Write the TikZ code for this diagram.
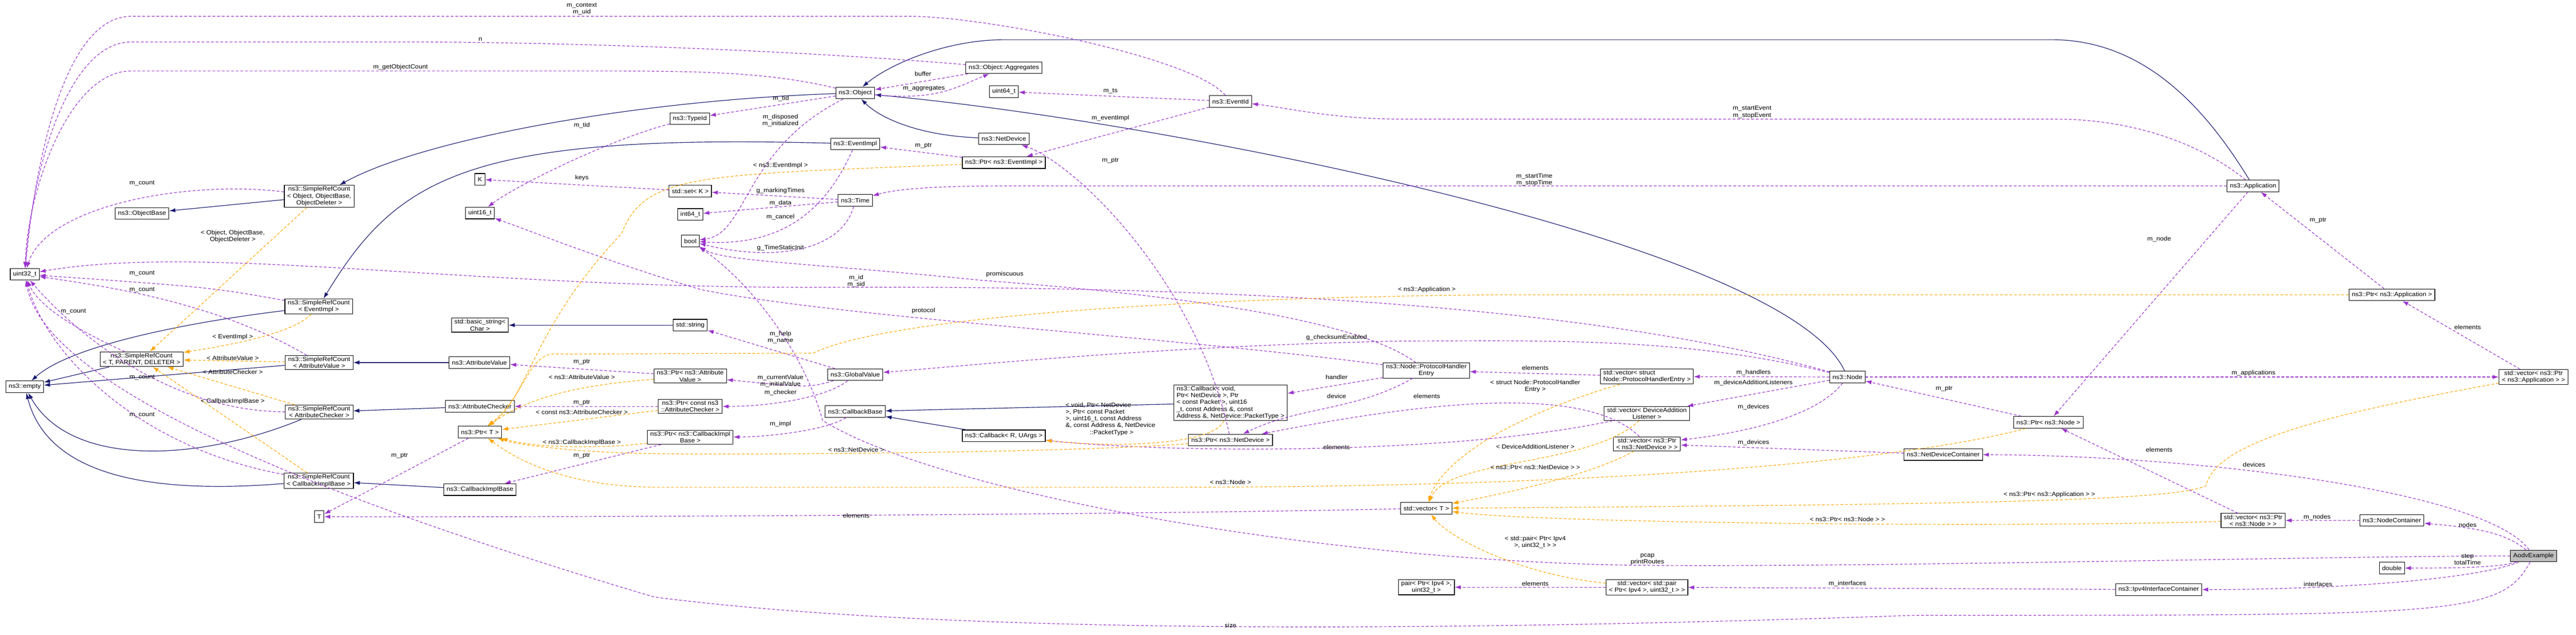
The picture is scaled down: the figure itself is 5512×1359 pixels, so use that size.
\documentclass[tikz,border=0pt]{standalone}
\usepackage{fontspec}
\setmainfont{Liberation Sans}[FakeStretch=1.08]
\usetikzlibrary{arrows.meta}
\definecolor{inhc}{HTML}{191970}
\definecolor{usec}{HTML}{9A32CD}
\definecolor{tplc}{HTML}{FFA500}
\tikzset{
  box/.style={draw=black,line width=1.2pt,fill=white,inner xsep=6pt,inner ysep=3pt,minimum height=25pt,align=center,font=\fontsize{13}{14.5}\selectfont},
  lbl/.style={inner sep=1pt,align=center,font=\fontsize{13}{14.5}\selectfont},
  inh/.style={draw=inhc,line width=1.3pt,-{Latex[length=13pt,width=9pt]}},
  use/.style={draw=usec,line width=1.3pt,dash pattern=on 6pt off 4pt,-{Latex[length=13pt,width=9pt]}},
  tpl/.style={draw=tplc,line width=1.3pt,dash pattern=on 6pt off 4pt,-{Latex[length=13pt,width=9pt]}}
}
\begin{document}
\begin{tikzpicture}[x=1pt,y=-1pt]
\useasboundingbox[fill=white] (0,0) rectangle (5512,1359);
% nodes
\node[box] (u32) at (53,587) {uint32\_t};
\node[box] (srcO) at (683,420) {ns3::SimpleRefCount\\< Object, ObjectBase,\\ObjectDeleter >};
\node[box] (objbase) at (304,457) {ns3::ObjectBase};
\node[box] (K) at (1027,384) {K};
\node[box] (u16) at (1027,456) {uint16\_t};
\node[box] (srcE) at (682,656) {ns3::SimpleRefCount\\< EventImpl >};
\node[box] (bstr) at (1027,696) {std::basic\_string<\\Char >};
\node[box] (srcT) at (303,769) {ns3::SimpleRefCount\\< T, PARENT, DELETER >};
\node[box] (empty) at (53,828) {ns3::empty};
\node[box] (srcAV) at (683,776) {ns3::SimpleRefCount\\< AttributeValue >};
\node[box] (av) at (1026,776) {ns3::AttributeValue};
\node[box] (srcAC) at (683,882) {ns3::SimpleRefCount\\< AttributeChecker >};
\node[box] (ac) at (1027,870) {ns3::AttributeChecker};
\node[box] (ptrT) at (1027,925) {ns3::Ptr< T >};
\node[box] (srcCB) at (682,1029) {ns3::SimpleRefCount\\< CallbackImplBase >};
\node[box] (cib) at (1027,1048) {ns3::CallbackImplBase};
\node[box] (T) at (683,1106) {T};
\node[box] (obj) at (1830,199) {ns3::Object};
\node[box] (agg) at (2148,145) {ns3::Object::Aggregates};
\node[box] (u64) at (2148,196) {uint64\_t};
\node[box] (evid) at (2633,217) {ns3::EventId};
\node[box] (typeid) at (1476,254) {ns3::TypeId};
\node[box] (evimpl) at (1830,308) {ns3::EventImpl};
\node[box] (nd) at (2148,297) {ns3::NetDevice};
\node[box] (ptrEv) at (2148,348) {ns3::Ptr< ns3::EventImpl >};
\node[box] (setK) at (1477,409) {std::set< K >};
\node[box] (time) at (1830,429) {ns3::Time};
\node[box] (i64) at (1477,459) {int64\_t};
\node[box] (bool) at (1477,516) {bool};
\node[box] (str) at (1477,696) {std::string};
\node[box] (ptrAV) at (1477,805) {ns3::Ptr< ns3::Attribute\\Value >};
\node[box] (gv) at (1830,802) {ns3::GlobalValue};
\node[box] (ptrAC) at (1477,870) {ns3::Ptr< const ns3\\::AttributeChecker >};
\node[box] (cbbase) at (1830,881) {ns3::CallbackBase};
\node[box] (ptrCB) at (1477,936) {ns3::Ptr< ns3::CallbackImpl\\Base >};
\node[box] (cbR) at (2148,933) {ns3::Callback< R, UArgs >};
\node[box,align=left] (cbvoid) at (2633,862) {ns3::Callback< void,\\ Ptr< NetDevice >, Ptr\\< const Packet >, uint16\\\_t, const Address \&, const\\ Address \&, NetDevice::PacketType >};
\node[box] (ptrND) at (2633,942) {ns3::Ptr< ns3::NetDevice >};
\node[box] (phe) at (3052,793) {ns3::Node::ProtocolHandler\\Entry};
\node[box,align=left] (vecPHE) at (3524,806) {std::vector< struct\\ Node::ProtocolHandlerEntry >};
\node[box] (node) at (3953,807) {ns3::Node};
\node[box] (vecDAL) at (3524,885) {std::vector< DeviceAddition\\Listener >};
\node[box] (vecND) at (3524,950) {std::vector< ns3::Ptr\\< ns3::NetDevice > >};
\node[box] (ndcont) at (4158,973) {ns3::NetDeviceContainer};
\node[box] (vecT) at (3052,1088) {std::vector< T >};
\node[box] (pair) at (3052,1257) {pair< Ptr< Ipv4 >,\\uint32\_t >};
\node[box] (vecPair) at (3524,1257) {std::vector< std::pair\\< Ptr< Ipv4 >, uint32\_t > >};
\node[box] (app) at (4821,398) {ns3::Application};
\node[box] (ptrApp) at (5118,631) {ns3::Ptr< ns3::Application >};
\node[box] (vecApp) at (5421,807) {std::vector< ns3::Ptr\\< ns3::Application > >};
\node[box] (ptrNode) at (4383,904) {ns3::Ptr< ns3::Node >};
\node[box] (vecNode) at (4821,1114) {std::vector< ns3::Ptr\\< ns3::Node > >};
\node[box] (nodecont) at (5118,1114) {ns3::NodeContainer};
\node[box,fill={rgb,255:red,191;green,191;blue,191}] (aodv) at (5421,1190) {AodvExample};
\node[box] (dbl) at (5118,1216) {double};
\node[box] (ipv4ic) at (4619,1262) {ns3::Ipv4InterfaceContainer};

% inheritance
\draw[inh] (srcO) -- (objbase);
\draw[inh] (obj) .. controls (1350,215) and (900,300) .. (srcO);
\draw[inh] (evimpl) .. controls (1000,285) and (850,380) .. (srcE);
\draw[inh] (srcE) .. controls (400,690) and (150,740) .. (empty);
\draw[inh] (srcT) -- (empty);
\draw[inh] (srcAV) -- (empty);
\draw[inh] (srcAC) .. controls (420,990) and (150,1000) .. (empty);
\draw[inh] (srcCB) .. controls (300,1060) and (100,1010) .. (empty);
\draw[inh] (av) -- (srcAV);
\draw[inh] (ac) -- (srcAC);
\draw[inh] (cib) -- (srcCB);
\draw[inh] (str) -- (bstr);
\draw[inh] (cbvoid) -- (cbbase);
\draw[inh] (cbR) -- (cbbase);
\draw[inh] (nd) .. controls (1960,290) and (1880,250) .. (obj);
\draw[inh] (app) .. controls (4730,250) and (4600,85) .. (4390,85) -- (2150,85) .. controls (2020,85) and (1900,140) .. (obj);
\draw[inh] (node) .. controls (3820,520) and (2500,260) .. (obj);

% usage
\draw[use] (evid) .. controls (2550,120) and (2100,35) .. (1950,35) -- (280,35) .. controls (150,35) and (80,300) .. (u32);
\draw[use] (agg) .. controls (1600,100) and (1100,90) .. (900,90) -- (280,90) .. controls (150,90) and (70,350) .. (u32);
\draw[use] (obj) .. controls (1650,155) and (1500,152) .. (1300,152) -- (280,152) .. controls (150,152) and (60,400) .. (u32);
\draw[use] (srcO) .. controls (400,385) and (100,440) .. (u32);
\draw[use] (srcT) .. controls (150,700) and (80,650) .. (u32);
\draw[use] (srcE) .. controls (450,615) .. (u32);
\draw[use] (srcAV) .. controls (450,640) and (200,610) .. (u32);
\draw[use] (srcAC) .. controls (350,880) and (150,700) .. (u32);
\draw[use] (srcCB) .. controls (300,960) and (100,760) .. (u32);
\draw[use] (node) .. controls (3400,650) and (2600,612) .. (1800,615) .. controls (1000,620) and (450,520) .. (u32);
\draw[use] (aodv) .. controls (5350,1320) and (5250,1317) .. (4100,1317) .. controls (3000,1355) and (2000,1355) .. (1400,1278) .. controls (800,1100) and (100,850) .. (u32);
\draw[use] (typeid) .. controls (1300,300) and (1100,400) .. (u16);
\draw[use] (obj) -- (typeid);
\draw[use] (obj) .. controls (2000,215) and (2040,190) .. (agg);
\draw[use] (agg) -- (obj);
\draw[use] (obj) .. controls (1590,320) and (1600,500) .. (bool);
\draw[use] (evimpl) .. controls (1780,420) and (1700,530) .. (bool);
\draw[use] (time) .. controls (1800,540) and (1650,560) .. (bool);
\draw[use] (time) -- (setK);
\draw[use] (time) -- (i64);
\draw[use] (setK) -- (K);
\draw[use] (evid) -- (u64);
\draw[use] (evid) -- (ptrEv);
\draw[use] (ptrEv) -- (evimpl);
\draw[use] (app) .. controls (4700,300) and (4550,255) .. (4400,255) -- (3000,255) .. controls (2850,255) and (2750,230) .. (evid);
\draw[use] (app) -- (2150,398) .. controls (1950,398) and (1900,410) .. (time);
\draw[use] (app) -- (ptrNode);
\draw[use] (ptrApp) -- (app);
\draw[use] (vecApp) -- (ptrApp);
\draw[use] (node) -- (vecApp);
\draw[use] (ptrNode) -- (node);
\draw[use] (vecNode) -- (ptrNode);
\draw[use] (nodecont) -- (vecNode);
\draw[use] (aodv) .. controls (5360,1140) and (5300,1130) .. (nodecont);
\draw[use] (aodv) .. controls (5320,1050) and (4700,975) .. (ndcont);
\draw[use] (aodv) .. controls (5350,1215) and (5250,1216) .. (dbl);
\draw[use] (aodv) .. controls (5300,1240) and (5000,1262) .. (ipv4ic);
\draw[use] (ipv4ic) -- (vecPair);
\draw[use] (vecPair) -- (pair);
\draw[use] (ndcont) -- (vecND);
\draw[use] (node) .. controls (3880,900) and (3700,930) .. (vecND);
\draw[use] (node) -- (vecDAL);
\draw[use] (node) -- (vecPHE);
\draw[use] (vecPHE) -- (phe);
\draw[use] (phe) -- (cbvoid);
\draw[use] (phe) .. controls (2900,880) and (2780,870) .. (ptrND);
\draw[use] (vecDAL) .. controls (3100,975) and (2500,970) .. (cbR);
\draw[use] (vecND) .. controls (3400,830) and (3100,850) .. (ptrND);
\draw[use] (ptrND) .. controls (2560,600) and (2300,350) .. (nd);
\draw[use] (gv) -- (str);
\draw[use] (gv) .. controls (1730,830) .. (ptrAV);
\draw[use] (gv) .. controls (1770,850) and (1650,870) .. (ptrAC);
\draw[use] (cbbase) .. controls (1770,920) and (1650,935) .. (ptrCB);
\draw[use] (node) .. controls (3600,720) and (3300,730) .. (3000,730) .. controls (2500,740) and (2100,780) .. (gv);
\draw[use] (phe) .. controls (2900,680) and (2500,630) .. (2100,600) .. controls (1700,560) and (1550,560) .. (bool);
\draw[use] (phe) .. controls (2500,720) and (1800,680) .. (1500,620) .. controls (1300,560) and (1150,500) .. (u16);
\draw[use] (aodv) .. controls (5000,1190) and (4000,1215) .. (3500,1210) .. controls (2800,1200) and (2000,1050) .. (1760,900) .. controls (1720,750) and (1600,600) .. (bool);
\draw[use] (ptrT) -- (T);
\draw[use] (vecT) .. controls (2500,1100) and (1500,1107) .. (T);
\draw[use] (ptrAV) -- (av);
\draw[use] (ptrAC) -- (ac);
\draw[use] (ptrCB) -- (cib);

% template
\draw[tpl] (srcO) -- (srcT);
\draw[tpl] (srcE) .. controls (620,720) and (450,745) .. (srcT);
\draw[tpl] (srcAV) -- (srcT);
\draw[tpl] (srcAC) -- (srcT);
\draw[tpl] (srcCB) -- (srcT);
\draw[tpl] (ptrEv) .. controls (1500,375) and (1380,370) .. (1330,500) .. controls (1140,700) and (1130,850) .. (ptrT);
\draw[tpl] (ptrAV) .. controls (1300,820) and (1150,835) .. (ptrT);
\draw[tpl] (ptrAC) -- (ptrT);
\draw[tpl] (ptrCB) .. controls (1300,960) and (1150,960) .. (ptrT);
\draw[tpl] (ptrND) .. controls (2300,970) and (1500,975) .. (1350,970) .. controls (1200,965) and (1100,950) .. (ptrT);
\draw[tpl] (ptrNode) .. controls (4100,980) and (3500,1043) .. (2500,1043) -- (1400,1043) .. controls (1200,1040) and (1100,980) .. (ptrT);
\draw[tpl] (ptrApp) -- (3200,631) .. controls (2300,640) and (1850,700) .. (1740,756) -- (1180,758) .. controls (1130,765) and (1120,850) .. (ptrT);
\draw[tpl] (cbvoid) .. controls (2600,950) and (2400,960) .. (cbR);
\draw[tpl] (vecPHE) .. controls (3200,900) and (3080,1000) .. (vecT);
\draw[tpl] (vecDAL) .. controls (3400,1000) and (3100,980) .. (vecT);
\draw[tpl] (vecND) .. controls (3400,1020) and (3200,1060) .. (vecT);
\draw[tpl] (vecApp) .. controls (4900,900) and (4740,960) .. (4720,1040) .. controls (4650,1070) and (4300,1080) .. (vecT);
\draw[tpl] (vecNode) .. controls (4300,1130) and (3300,1120) .. (vecT);
\draw[tpl] (vecPair) .. controls (3250,1230) and (3100,1150) .. (vecT);

% labels
\node[lbl] (l1) at (1245,19) {m\_context\\m\_uid};
\node[lbl] (l2) at (1028,84) {n};
\node[lbl] (l3) at (857,144) {m\_getObjectCount};
\node[lbl] (l4) at (1245,268) {m\_tid};
\node[lbl] (l5) at (1245,381) {keys};
\node[lbl] (l6) at (304,392) {m\_count};
\node[lbl] (l7) at (498,506) {< Object, ObjectBase,\\ObjectDeleter >};
\node[lbl] (l8) at (304,585) {m\_count};
\node[lbl] (l9) at (304,620) {m\_count};
\node[lbl] (l10) at (157,667) {m\_count};
\node[lbl] (l11) at (498,721) {< EventImpl >};
\node[lbl] (l12) at (498,767) {< AttributeValue >};
\node[lbl] (l13) at (498,796) {< AttributeChecker >};
\node[lbl] (l14) at (304,808) {m\_count};
\node[lbl] (l15) at (498,859) {< CallbackImplBase >};
\node[lbl] (l16) at (304,888) {m\_count};
\node[lbl] (l17) at (855,976) {m\_ptr};
\node[lbl] (l18) at (1245,775) {m\_ptr};
\node[lbl] (l19) at (1245,807) {< ns3::AttributeValue >};
\node[lbl] (l20) at (1245,862) {m\_ptr};
\node[lbl] (l21) at (1245,882) {< const ns3::AttributeChecker >};
\node[lbl] (l22) at (1245,947) {< ns3::CallbackImplBase >};
\node[lbl] (l23) at (1245,976) {m\_ptr};
\node[lbl] (l24) at (1975,158) {buffer};
\node[lbl] (l25) at (1977,189) {m\_aggregates};
\node[lbl] (l26) at (1671,211) {m\_tid};
\node[lbl] (l27) at (1670,258) {m\_disposed\\m\_initialized};
\node[lbl] (l28) at (1976,312) {m\_ptr};
\node[lbl] (l29) at (2376,195) {m\_ts};
\node[lbl] (l30) at (2376,253) {m\_eventImpl};
\node[lbl] (l31) at (2376,344) {m\_ptr};
\node[lbl] (l32) at (1670,354) {< ns3::EventImpl >};
\node[lbl] (l33) at (1670,408) {g\_markingTimes};
\node[lbl] (l34) at (1670,435) {m\_data};
\node[lbl] (l35) at (1670,465) {m\_cancel};
\node[lbl] (l36) at (1670,531) {g\_TimeStaticInit};
\node[lbl] (l37) at (2150,587) {promiscuous};
\node[lbl] (l38) at (1832,602) {m\_id\\m\_sid};
\node[lbl] (l39) at (1976,665) {protocol};
\node[lbl] (l40) at (1670,722) {m\_help\\m\_name};
\node[lbl] (l41) at (1670,816) {m\_currentValue\\m\_initialValue};
\node[lbl] (l42) at (1670,841) {m\_checker};
\node[lbl] (l43) at (1670,908) {m\_impl};
\node[lbl,align=left] (l44) at (2376,897) {< void, Ptr< NetDevice\\>, Ptr< const Packet\\>, uint16\_t, const Address\\\&, const Address \&, NetDevice\\\hspace*{4em}::PacketType >};
\node[lbl] (l45) at (1832,963) {< ns3::NetDevice >};
\node[lbl] (l46) at (2633,1032) {< ns3::Node >};
\node[lbl] (l47) at (1832,1104) {elements};
\node[lbl] (l48) at (2633,1339) {size};
\node[lbl] (l49) at (2860,723) {g\_checksumEnabled};
\node[lbl] (l50) at (2860,807) {handler};
\node[lbl] (l51) at (2860,848) {device};
\node[lbl] (l52) at (3285,787) {elements};
\node[lbl] (l53) at (3285,827) {< struct Node::ProtocolHandler\\Entry >};
\node[lbl] (l54) at (3053,848) {elements};
\node[lbl] (l55) at (3752,798) {m\_handlers};
\node[lbl] (l56) at (3752,819) {m\_deviceAdditionListeners};
\node[lbl] (l57) at (3752,871) {m\_devices};
\node[lbl] (l58) at (2860,957) {elements};
\node[lbl] (l59) at (3285,956) {< DeviceAdditionListener >};
\node[lbl] (l60) at (3752,947) {m\_devices};
\node[lbl] (l61) at (3285,1000) {< ns3::Ptr< ns3::NetDevice > >};
\node[lbl] (l62) at (3953,1112) {< ns3::Ptr< ns3::Node > >};
\node[lbl] (l63) at (3285,1161) {< std::pair< Ptr< Ipv4\\>, uint32\_t > >};
\node[lbl] (l64) at (3525,1197) {pcap\\printRoutes};
\node[lbl] (l65) at (3285,1249) {elements};
\node[lbl] (l66) at (3953,1249) {m\_interfaces};
\node[lbl] (l67) at (3749,240) {m\_startEvent\\m\_stopEvent};
\node[lbl] (l68) at (3283,385) {m\_startTime\\m\_stopTime};
\node[lbl] (l69) at (3053,620) {< ns3::Application >};
\node[lbl] (l70) at (4960,472) {m\_ptr};
\node[lbl] (l71) at (4620,512) {m\_node};
\node[lbl] (l72) at (5280,700) {elements};
\node[lbl] (l73) at (4822,799) {m\_applications};
\node[lbl] (l74) at (4160,832) {m\_ptr};
\node[lbl] (l75) at (4620,963) {elements};
\node[lbl] (l76) at (4823,995) {devices};
\node[lbl] (l77) at (4385,1059) {< ns3::Ptr< ns3::Application > >};
\node[lbl] (l78) at (4958,1107) {m\_nodes};
\node[lbl] (l79) at (5280,1124) {nodes};
\node[lbl] (l80) at (5280,1197) {step\\totalTime};
\node[lbl] (l81) at (4960,1250) {interfaces};
\end{tikzpicture}
\end{document}
